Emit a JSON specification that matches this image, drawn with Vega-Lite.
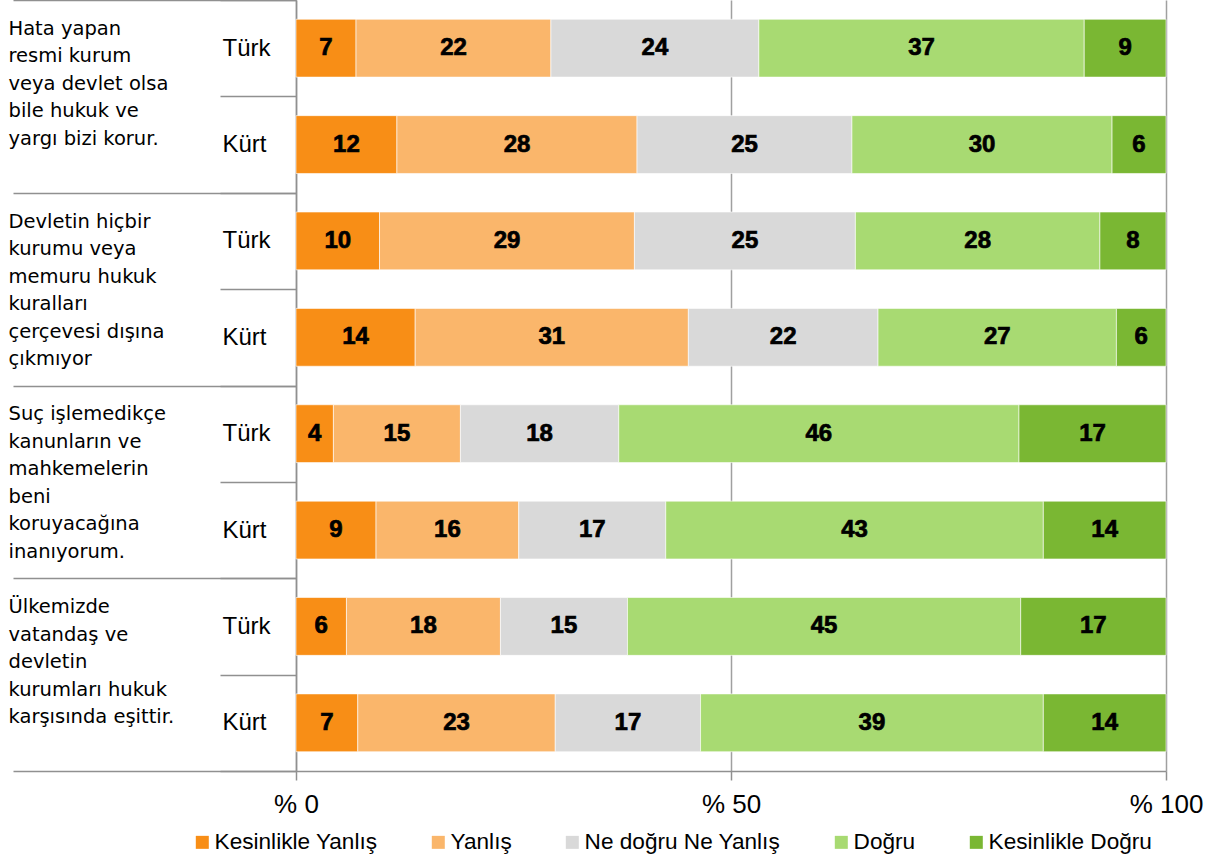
{
  "$schema": "https://vega.github.io/schema/vega-lite/v6.json",
  "width": 870,
  "height": 771,
  "autosize": {"type": "none"},
  "padding": {"left": 296, "top": 0, "right": 51, "bottom": 91},
  "background": "white",
  "config": {"view": {"stroke": null}, "font": "Liberation Sans"},
  "data": {"values": [
    {"r": "1 Türk", "g": "Hata yapan\nresmi kurum\nveya devlet olsa\nbile hukuk ve\nyargı bizi korur.", "c": "Kesinlikle Yanlış", "k": 1, "v": 6.9},
    {"r": "1 Türk", "g": "Hata yapan\nresmi kurum\nveya devlet olsa\nbile hukuk ve\nyargı bizi korur.", "c": "Yanlış", "k": 2, "v": 22.4},
    {"r": "1 Türk", "g": "Hata yapan\nresmi kurum\nveya devlet olsa\nbile hukuk ve\nyargı bizi korur.", "c": "Ne doğru Ne Yanlış", "k": 3, "v": 23.9},
    {"r": "1 Türk", "g": "Hata yapan\nresmi kurum\nveya devlet olsa\nbile hukuk ve\nyargı bizi korur.", "c": "Doğru", "k": 4, "v": 37.4},
    {"r": "1 Türk", "g": "Hata yapan\nresmi kurum\nveya devlet olsa\nbile hukuk ve\nyargı bizi korur.", "c": "Kesinlikle Doğru", "k": 5, "v": 9.4},
    {"r": "1 Kürt", "g": "Hata yapan\nresmi kurum\nveya devlet olsa\nbile hukuk ve\nyargı bizi korur.", "c": "Kesinlikle Yanlış", "k": 1, "v": 11.6},
    {"r": "1 Kürt", "g": "Hata yapan\nresmi kurum\nveya devlet olsa\nbile hukuk ve\nyargı bizi korur.", "c": "Yanlış", "k": 2, "v": 27.6},
    {"r": "1 Kürt", "g": "Hata yapan\nresmi kurum\nveya devlet olsa\nbile hukuk ve\nyargı bizi korur.", "c": "Ne doğru Ne Yanlış", "k": 3, "v": 24.7},
    {"r": "1 Kürt", "g": "Hata yapan\nresmi kurum\nveya devlet olsa\nbile hukuk ve\nyargı bizi korur.", "c": "Doğru", "k": 4, "v": 29.9},
    {"r": "1 Kürt", "g": "Hata yapan\nresmi kurum\nveya devlet olsa\nbile hukuk ve\nyargı bizi korur.", "c": "Kesinlikle Doğru", "k": 5, "v": 6.2},
    {"r": "2 Türk", "g": "Devletin hiçbir\nkurumu veya\nmemuru hukuk\nkuralları\nçerçevesi dışına\nçıkmıyor", "c": "Kesinlikle Yanlış", "k": 1, "v": 9.6},
    {"r": "2 Türk", "g": "Devletin hiçbir\nkurumu veya\nmemuru hukuk\nkuralları\nçerçevesi dışına\nçıkmıyor", "c": "Yanlış", "k": 2, "v": 29.3},
    {"r": "2 Türk", "g": "Devletin hiçbir\nkurumu veya\nmemuru hukuk\nkuralları\nçerçevesi dışına\nçıkmıyor", "c": "Ne doğru Ne Yanlış", "k": 3, "v": 25.4},
    {"r": "2 Türk", "g": "Devletin hiçbir\nkurumu veya\nmemuru hukuk\nkuralları\nçerçevesi dışına\nçıkmıyor", "c": "Doğru", "k": 4, "v": 28.1},
    {"r": "2 Türk", "g": "Devletin hiçbir\nkurumu veya\nmemuru hukuk\nkuralları\nçerçevesi dışına\nçıkmıyor", "c": "Kesinlikle Doğru", "k": 5, "v": 7.6},
    {"r": "2 Kürt", "g": "Devletin hiçbir\nkurumu veya\nmemuru hukuk\nkuralları\nçerçevesi dışına\nçıkmıyor", "c": "Kesinlikle Yanlış", "k": 1, "v": 13.7},
    {"r": "2 Kürt", "g": "Devletin hiçbir\nkurumu veya\nmemuru hukuk\nkuralları\nçerçevesi dışına\nçıkmıyor", "c": "Yanlış", "k": 2, "v": 31.4},
    {"r": "2 Kürt", "g": "Devletin hiçbir\nkurumu veya\nmemuru hukuk\nkuralları\nçerçevesi dışına\nçıkmıyor", "c": "Ne doğru Ne Yanlış", "k": 3, "v": 21.8},
    {"r": "2 Kürt", "g": "Devletin hiçbir\nkurumu veya\nmemuru hukuk\nkuralları\nçerçevesi dışına\nçıkmıyor", "c": "Doğru", "k": 4, "v": 27.4},
    {"r": "2 Kürt", "g": "Devletin hiçbir\nkurumu veya\nmemuru hukuk\nkuralları\nçerçevesi dışına\nçıkmıyor", "c": "Kesinlikle Doğru", "k": 5, "v": 5.7},
    {"r": "3 Türk", "g": "Suç işlemedikçe\nkanunların ve\nmahkemelerin\nbeni\nkoruyacağına\ninanıyorum.", "c": "Kesinlikle Yanlış", "k": 1, "v": 4.3},
    {"r": "3 Türk", "g": "Suç işlemedikçe\nkanunların ve\nmahkemelerin\nbeni\nkoruyacağına\ninanıyorum.", "c": "Yanlış", "k": 2, "v": 14.6},
    {"r": "3 Türk", "g": "Suç işlemedikçe\nkanunların ve\nmahkemelerin\nbeni\nkoruyacağına\ninanıyorum.", "c": "Ne doğru Ne Yanlış", "k": 3, "v": 18.2},
    {"r": "3 Türk", "g": "Suç işlemedikçe\nkanunların ve\nmahkemelerin\nbeni\nkoruyacağına\ninanıyorum.", "c": "Doğru", "k": 4, "v": 46.0},
    {"r": "3 Türk", "g": "Suç işlemedikçe\nkanunların ve\nmahkemelerin\nbeni\nkoruyacağına\ninanıyorum.", "c": "Kesinlikle Doğru", "k": 5, "v": 16.9},
    {"r": "3 Kürt", "g": "Suç işlemedikçe\nkanunların ve\nmahkemelerin\nbeni\nkoruyacağına\ninanıyorum.", "c": "Kesinlikle Yanlış", "k": 1, "v": 9.2},
    {"r": "3 Kürt", "g": "Suç işlemedikçe\nkanunların ve\nmahkemelerin\nbeni\nkoruyacağına\ninanıyorum.", "c": "Yanlış", "k": 2, "v": 16.4},
    {"r": "3 Kürt", "g": "Suç işlemedikçe\nkanunların ve\nmahkemelerin\nbeni\nkoruyacağına\ninanıyorum.", "c": "Ne doğru Ne Yanlış", "k": 3, "v": 16.9},
    {"r": "3 Kürt", "g": "Suç işlemedikçe\nkanunların ve\nmahkemelerin\nbeni\nkoruyacağına\ninanıyorum.", "c": "Doğru", "k": 4, "v": 43.4},
    {"r": "3 Kürt", "g": "Suç işlemedikçe\nkanunların ve\nmahkemelerin\nbeni\nkoruyacağına\ninanıyorum.", "c": "Kesinlikle Doğru", "k": 5, "v": 14.1},
    {"r": "4 Türk", "g": "Ülkemizde\nvatandaş ve\ndevletin\nkurumları hukuk\nkarşısında eşittir.", "c": "Kesinlikle Yanlış", "k": 1, "v": 5.8},
    {"r": "4 Türk", "g": "Ülkemizde\nvatandaş ve\ndevletin\nkurumları hukuk\nkarşısında eşittir.", "c": "Yanlış", "k": 2, "v": 17.7},
    {"r": "4 Türk", "g": "Ülkemizde\nvatandaş ve\ndevletin\nkurumları hukuk\nkarşısında eşittir.", "c": "Ne doğru Ne Yanlış", "k": 3, "v": 14.6},
    {"r": "4 Türk", "g": "Ülkemizde\nvatandaş ve\ndevletin\nkurumları hukuk\nkarşısında eşittir.", "c": "Doğru", "k": 4, "v": 45.2},
    {"r": "4 Türk", "g": "Ülkemizde\nvatandaş ve\ndevletin\nkurumları hukuk\nkarşısında eşittir.", "c": "Kesinlikle Doğru", "k": 5, "v": 16.7},
    {"r": "4 Kürt", "g": "Ülkemizde\nvatandaş ve\ndevletin\nkurumları hukuk\nkarşısında eşittir.", "c": "Kesinlikle Yanlış", "k": 1, "v": 7.1},
    {"r": "4 Kürt", "g": "Ülkemizde\nvatandaş ve\ndevletin\nkurumları hukuk\nkarşısında eşittir.", "c": "Yanlış", "k": 2, "v": 22.7},
    {"r": "4 Kürt", "g": "Ülkemizde\nvatandaş ve\ndevletin\nkurumları hukuk\nkarşısında eşittir.", "c": "Ne doğru Ne Yanlış", "k": 3, "v": 16.7},
    {"r": "4 Kürt", "g": "Ülkemizde\nvatandaş ve\ndevletin\nkurumları hukuk\nkarşısında eşittir.", "c": "Doğru", "k": 4, "v": 39.4},
    {"r": "4 Kürt", "g": "Ülkemizde\nvatandaş ve\ndevletin\nkurumları hukuk\nkarşısında eşittir.", "c": "Kesinlikle Doğru", "k": 5, "v": 14.1}
  ]},
  "layer": [
    {
      "layer": [
        {
          "mark": {"type": "bar", "stroke": "white", "strokeWidth": 0.6, "height": {"band": 0.6}},
          "encoding": {
            "y": {
              "field": "r", "type": "nominal", "sort": null,
              "scale": {"paddingInner": 0, "paddingOuter": 0},
              "axis": {
                "title": null, "orient": "left", "tickBand": "extent", "tickSize": 76,
                "tickColor": "#909090", "tickWidth": 1.5, "domainColor": "#909090", "domainWidth": 1.5,
                "labelExpr": "split(datum.label, ' ')[1]", "labelAlign": "left", "labelPadding": -2,
                "labelFont": "Liberation Sans", "labelFontSize": 24, "labelColor": "black", "labelBaseline": "middle"
              }
            },
            "x": {
              "field": "v", "type": "quantitative", "stack": "zero",
              "scale": {"domain": [0, 100], "nice": false},
              "axis": {
                "title": null, "values": [0, 50, 100], "labelExpr": "'% ' + datum.value",
                "grid": true, "gridColor": "#a0a0a0", "gridWidth": 1.5,
                "domainColor": "#909090", "domainWidth": 1.5, "tickColor": "#909090", "tickWidth": 1.5, "tickSize": 9,
                "labelFont": "Liberation Sans", "labelFontSize": 26, "labelColor": "black", "labelPadding": 11, "labelFlush": false
              }
            },
            "color": {
              "field": "c", "type": "nominal",
              "scale": {
                "domain": ["Kesinlikle Yanlış", "Yanlış", "Ne doğru Ne Yanlış", "Doğru", "Kesinlikle Doğru"],
                "range": ["#F88E16", "#FAB66B", "#D9D9D9", "#A8DA72", "#7AB733"]
              },
              "legend": {
                "title": null, "orient": "none", "legendX": -105, "legendY": 831, "direction": "horizontal",
                "symbolType": "square", "symbolSize": 169, "symbolStrokeWidth": 0,
                "labelFont": "Liberation Sans", "labelFontSize": 22.6, "labelColor": "black",
                "columnPadding": 49, "labelOffset": 1, "labelLimit": 0, "padding": 0
              }
            },
            "order": {"field": "k"}
          }
        },
        {
          "transform": [
            {"stack": "v", "groupby": ["r"], "sort": [{"field": "k"}], "as": ["v0", "v1"]},
            {"calculate": "(datum.v0 + datum.v1) / 2", "as": "mid"}
          ],
          "mark": {"type": "text", "font": "Liberation Sans", "fontWeight": "bold", "fontSize": 24, "color": "black", "stroke": "black", "strokeWidth": 0.7, "baseline": "middle", "align": "center"},
          "encoding": {
            "y": {"field": "r", "type": "nominal", "sort": null},
            "x": {"field": "mid", "type": "quantitative", "axis": {"title": null}},
            "text": {"field": "v", "type": "quantitative", "format": ".0f"}
          }
        }
      ]
    },
    {
      "mark": {"type": "bar", "opacity": 0},
      "encoding": {
        "y": {
          "field": "g", "type": "nominal", "sort": null,
          "scale": {"paddingInner": 0, "paddingOuter": 0},
          "axis": {
            "title": null, "orient": "left", "tickBand": "extent", "tickSize": 283,
            "tickColor": "#909090", "tickWidth": 1.5, "domain": false,
            "labelAlign": "left", "labelBaseline": "top", "labelPadding": 5, "labelOffset": -77,
            "labelExpr": "split(datum.label, '\\n')", "labelLineHeight": 27.5,
            "labelFont": "DejaVu Sans", "labelFontSize": 19.5, "labelColor": "black", "labelLimit": 0
          }
        }
      }
    }
  ],
  "resolve": {"scale": {"y": "independent"}}
}
